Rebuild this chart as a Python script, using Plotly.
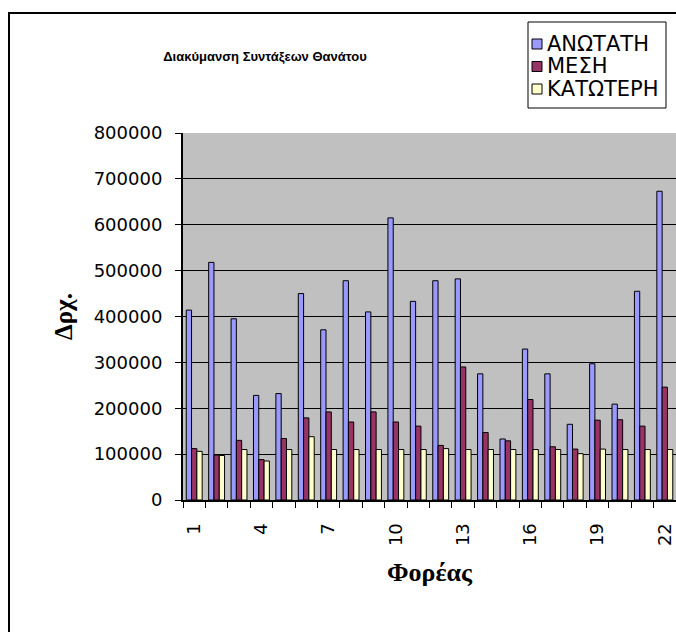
import plotly.graph_objects as go

categories = list(range(1, 23))
tick_labels = ["1", "4", "7", "10", "13", "16", "19", "22"]
tick_positions = [1, 4, 7, 10, 13, 16, 19, 22]

anotati = [414000, 518000, 395000, 228000, 232000, 450000, 371000, 478000, 410000, 615000, 433000,
           478000, 482000, 275000, 133000, 329000, 275000, 165000, 297000, 209000, 455000, 673000]
mesi = [112000, 98000, 130000, 88000, 134000, 179000, 192000, 170000, 192000, 170000, 161000,
        119000, 290000, 147000, 129000, 219000, 116000, 111000, 174000, 175000, 161000, 246000]
katoteri = [106000, 97000, 110000, 85000, 110000, 138000, 110000, 110000, 110000, 110000, 110000,
            112000, 110000, 110000, 110000, 110000, 110000, 101000, 111000, 110000, 110000, 110000]

series_names = ["ΑΝΩΤΑΤΗ", "ΜΕΣΗ", "ΚΑΤΩΤΕΡΗ"]
series_values = [anotati, mesi, katoteri]
series_colors = ["#9999FF", "#993366", "#FFFFCC"]

L, R, T, B = 183, 0, 133, 132
W, H = 676, 632
pw = W - L - R
ph = H - T - B


def px_x(px):
    return (px - L) / pw


def px_y(py):
    return (H - B - py) / ph


fig = go.Figure()
for name, vals, col in zip(series_names, series_values, series_colors):
    fig.add_trace(go.Bar(
        x=categories, y=vals, name=name, showlegend=False,
        marker=dict(color=col, line=dict(color="black", width=1)),
    ))

shapes = [dict(
    type="rect", xref="paper", yref="paper",
    x0=px_x(9), x1=px_x(W + 20),
    y0=px_y(H + 20), y1=px_y(13),
    line=dict(color="black", width=2), fillcolor="rgba(0,0,0,0)", layer="above",
)]
# legend box
shapes.append(dict(
    type="rect", xref="paper", yref="paper",
    x0=px_x(528), x1=px_x(666), y0=px_y(108), y1=px_y(22),
    line=dict(color="black", width=1), fillcolor="white", layer="above",
))
annotations = []
for i, (name, col) in enumerate(zip(series_names, series_colors)):
    cy = 44 + i * 22.5
    shapes.append(dict(
        type="rect", xref="paper", yref="paper",
        x0=px_x(532), x1=px_x(542), y0=px_y(cy + 5), y1=px_y(cy - 5),
        line=dict(color="black", width=1), fillcolor=col, layer="above",
    ))
    annotations.append(dict(
        text=name, xref="paper", yref="paper",
        x=px_x(545), y=px_y(cy), xanchor="left", yanchor="middle",
        showarrow=False,
        font=dict(family="DejaVu Sans", size=21, color="black"),
    ))

fig.update_layout(
    width=W, height=H,
    margin=dict(l=L, r=R, t=T, b=B, pad=0),
    paper_bgcolor="white",
    plot_bgcolor="#C0C0C0",
    barmode="group",
    bargap=0.29,
    bargroupgap=0,
    font=dict(family="DejaVu Sans", color="black"),
    title=dict(
        text="<b>Διακύμανση Συντάξεων Θανάτου</b>",
        x=265 / W, xanchor="center", xref="container",
        y=1 - 56 / H, yanchor="middle", yref="container",
        font=dict(family="Liberation Sans", size=13, color="black"),
    ),
    xaxis=dict(
        range=[0.5, 22.5],
        tickvals=tick_positions, ticktext=tick_labels,
        tickangle=-90,
        ticks="",
        ticklabelstandoff=14,
        minor=dict(tick0=0.5, dtick=1, ticks="outside", ticklen=6, tickcolor="black", tickwidth=1, showgrid=False),
        showgrid=False, zeroline=False,
        showline=True, linecolor="black", linewidth=2,
        tickfont=dict(family="DejaVu Sans", size=18, color="black"),
        title=dict(text="<b>Φορέας</b>", font=dict(family="Liberation Serif", size=26, color="black"), standoff=18),
        fixedrange=True,
    ),
    yaxis=dict(
        range=[0, 800000], dtick=100000, tickformat="d",
        showgrid=True, gridcolor="black", gridwidth=1,
        zeroline=False,
        showline=True, linecolor="black", linewidth=2,
        ticks="outside", ticklen=6, tickcolor="black",
        ticklabelstandoff=9,
        tickfont=dict(family="DejaVu Sans", size=18, color="black"),
        title=dict(text="<b>Δρχ.</b>", font=dict(family="Liberation Serif", size=25, color="black"), standoff=14),
        fixedrange=True,
    ),
    shapes=shapes,
    annotations=annotations,
)

fig.write_html("out.html", config={"displayModeBar": False},
               post_script="document.body.style.margin='0';")
